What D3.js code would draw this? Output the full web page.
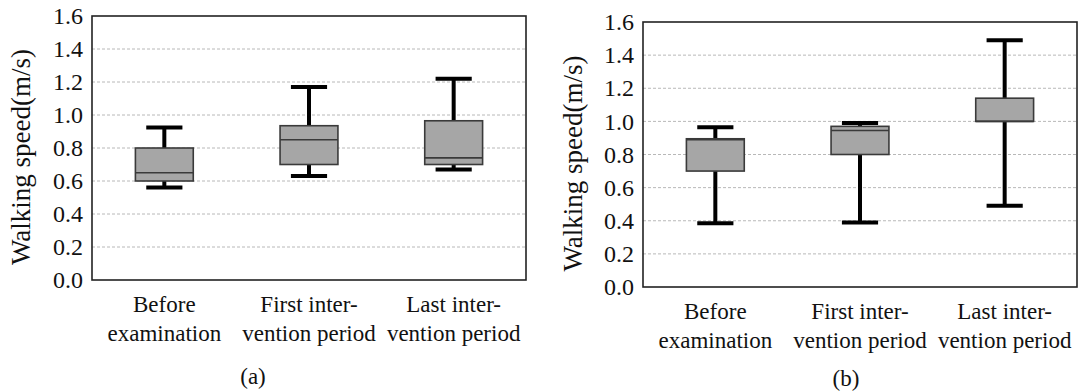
<!DOCTYPE html>
<html>
<head>
<meta charset="utf-8">
<script src="https://cdn.jsdelivr.net/npm/d3@7"></script>
<style>
  body { margin: 0; background: #fff; }
  svg text { font-family: "Liberation Serif", "Times New Roman", serif; }
</style>
</head>
<body>
<div id="chart"></div>
<script>
const FONT = "Liberation Serif";

// categories and tick labels
const categories = [["Before", "examination"], ["First inter-", "vention period"], ["Last inter-", "vention period"]];
const yTicks = [0, 0.2, 0.4, 0.6, 0.8, 1.0, 1.2, 1.4, 1.6];

// panel (a) box stats
const lowA    = [0.56, 0.63, 0.67];
const q1A     = [0.60, 0.70, 0.70];
const medianA = [0.65, 0.85, 0.74];
const q3A     = [0.80, 0.935, 0.965];
const highA   = [0.925, 1.17, 1.22];

// panel (b)
const lowB    = [0.385, 0.39, 0.49];
const q1B     = [0.70, 0.80, 1.00];
const medianB = [0.89, 0.945, 1.00];
const q3B     = [0.895, 0.97, 1.14];
const highB   = [0.965, 0.99, 1.49];

const svg = d3.select("#chart").append("svg")
  .attr("width", 1088)
  .attr("height", 392);

function styleText(sel, size) {
  sel.attr("font-family", FONT).attr("font-size", size)
     .style("font-family", FONT).style("font-size", size + "px").style("fill", "#111");
}

function drawPanel(box, stats, caption) {
  const names = categories.map(c => c.join(" "));
  const rows = names.map((n, i) => ({
    name: n, lines: categories[i],
    low: stats.low[i], q1: stats.q1[i], med: stats.med[i], q3: stats.q3[i], high: stats.high[i]
  }));

  const x = d3.scaleBand().domain(names).range([box.left, box.right]).padding(0);
  const y = d3.scaleLinear().domain([0, 1.6]).range([box.bottom, box.top]);

  const g = svg.append("g");

  // dashed grid
  g.selectAll("line.grid")
    .data(yTicks.filter(t => t > 0 && t < 1.6))
    .enter().append("line")
    .attr("x1", box.left).attr("x2", box.right)
    .attr("y1", d => y(d)).attr("y2", d => y(d))
    .attr("stroke", "#b8b8b8").attr("stroke-width", 1)
    .attr("stroke-dasharray", "3,2");

  // y axis labels
  const yAxis = d3.axisLeft(y).tickValues(yTicks).tickFormat(d3.format(".1f")).tickSize(0).tickPadding(9);
  const ya = g.append("g").attr("transform", `translate(${box.left},0)`).call(yAxis);
  ya.attr("font-family", FONT);
  ya.select(".domain").remove();
  styleText(ya.selectAll("text"), 24);

  // frame
  g.append("rect")
    .attr("x", box.left).attr("y", box.top)
    .attr("width", box.right - box.left).attr("height", box.bottom - box.top)
    .attr("fill", "none").attr("stroke", "#222").attr("stroke-width", 1.6);

  const bw = x.bandwidth() * 0.4;
  const cw = x.bandwidth() * 0.25;
  const cx = d => x(d.name) + x.bandwidth() / 2;

  const items = g.selectAll("g.item").data(rows).enter().append("g");

  // whiskers
  items.append("line")
    .attr("x1", cx).attr("x2", cx)
    .attr("y1", d => y(d.high)).attr("y2", d => y(d.q3))
    .attr("stroke", "#000").attr("stroke-width", 4);
  items.append("line")
    .attr("x1", cx).attr("x2", cx)
    .attr("y1", d => y(d.q1)).attr("y2", d => y(d.low))
    .attr("stroke", "#000").attr("stroke-width", 4);
  // caps
  items.append("line")
    .attr("x1", d => cx(d) - cw / 2).attr("x2", d => cx(d) + cw / 2)
    .attr("y1", d => y(d.high)).attr("y2", d => y(d.high))
    .attr("stroke", "#000").attr("stroke-width", 4);
  items.append("line")
    .attr("x1", d => cx(d) - cw / 2).attr("x2", d => cx(d) + cw / 2)
    .attr("y1", d => y(d.low)).attr("y2", d => y(d.low))
    .attr("stroke", "#000").attr("stroke-width", 4);

  // box
  items.append("rect")
    .attr("x", d => cx(d) - bw / 2).attr("width", bw)
    .attr("y", d => y(d.q3)).attr("height", d => y(d.q1) - y(d.q3))
    .attr("fill", "#a6a6a6").attr("stroke", "#3a3a3a").attr("stroke-width", 1.6);
  // median
  items.append("line")
    .attr("x1", d => cx(d) - bw / 2).attr("x2", d => cx(d) + bw / 2)
    .attr("y1", d => y(d.med)).attr("y2", d => y(d.med))
    .attr("stroke", "#3a3a3a").attr("stroke-width", 1.6);

  // category labels
  const lab = items.append("text").attr("text-anchor", "middle");
  styleText(lab, 23);
  lab.selectAll("tspan").data(d => d.lines.map(l => ({ l, c: cx(d) }))).enter().append("tspan")
    .attr("x", t => t.c)
    .attr("y", (t, i) => box.bottom + 32 + i * 29)
    .text(t => t.l);

  // y title
  const yt = g.append("text")
    .attr("transform", `translate(${box.titleX},${(box.top + box.bottom) / 2 + 9}) rotate(-90)`)
    .attr("text-anchor", "middle")
    .text("Walking speed(m/s)");
  styleText(yt, 27);

  // caption
  const cap = g.append("text")
    .attr("x", box.capX).attr("y", box.capY)
    .attr("text-anchor", "middle")
    .text(caption);
  styleText(cap, 23);
}

drawPanel({ left: 92, right: 526, top: 16, bottom: 280, titleX: 30, capX: 253, capY: 384 },
  { low: lowA, q1: q1A, med: medianA, q3: q3A, high: highA }, "(a)");
drawPanel({ left: 643, right: 1077, top: 22, bottom: 287, titleX: 582, capX: 846, capY: 386 },
  { low: lowB, q1: q1B, med: medianB, q3: q3B, high: highB }, "(b)");
</script>
</body>
</html>
